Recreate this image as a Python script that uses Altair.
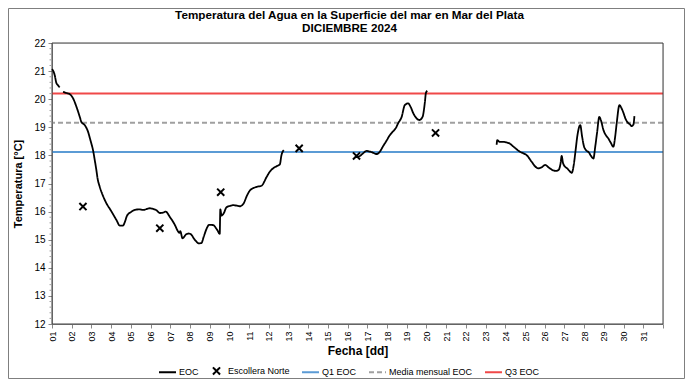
import altair as alt
import pandas as pd

# ---------------- data ----------------
eoc_day = [
    1.00, 1.08, 1.14, 1.22, 1.30, 1.39,
    1.56, 1.73, 1.90, 2.07, 2.24, 2.41, 2.49, 2.66, 2.83, 2.95, 3.08, 3.17, 3.25, 3.32,
    3.42, 3.68, 4.02, 4.27, 4.44, 4.60, 4.69, 4.81, 5.00, 5.20, 5.45, 5.62, 5.96, 6.11,
    6.30, 6.47, 6.62, 6.77, 6.97, 7.23, 7.40, 7.46, 7.51, 7.62, 7.82, 7.94, 8.08, 8.19,
    8.33, 8.45, 8.58, 8.70, 8.85, 8.97, 9.17, 9.38, 9.51, 9.54, 9.60, 9.72, 9.85, 10.02,
    10.19, 10.38, 10.53, 10.73, 10.88, 11.04, 11.38, 11.63, 11.88, 12.05, 12.22, 12.41,
    12.56, 12.64, 12.76,
    16.37, 16.62, 16.79, 16.96, 17.20, 17.47, 17.63, 17.80, 17.97, 18.14, 18.31, 18.45,
    18.56, 18.74, 18.90, 19.07, 19.20, 19.33, 19.50, 19.63, 19.80, 19.92, 19.97, 20.04,
    23.56, 23.59, 23.72, 23.90, 24.07, 24.23, 24.40, 24.57, 24.74, 24.90, 25.08, 25.34,
    25.50, 25.67, 25.85, 26.02, 26.20, 26.36, 26.55, 26.70, 26.80, 26.86, 26.92, 27.00,
    27.12, 27.25, 27.37, 27.48, 27.56, 27.66, 27.80, 27.90, 27.98, 28.10, 28.22, 28.38,
    28.47, 28.56, 28.65, 28.77, 28.85, 28.98, 29.10, 29.23, 29.35, 29.48, 29.57, 29.65,
    29.79, 29.88, 29.99, 30.10, 30.20, 30.33, 30.41, 30.50, 30.55,
]
eoc_temp = [
    21.07, 20.98, 20.85, 20.58, 20.50, 20.42,
    20.26, 20.22, 20.18, 20.03, 19.73, 19.37, 19.19, 19.08, 18.84, 18.54, 18.19, 17.83, 17.48, 17.15,
    16.89, 16.41, 16.00, 15.70, 15.50, 15.50, 15.62, 15.86, 15.98, 16.06, 16.08, 16.06, 16.12, 16.10,
    16.05, 15.95, 15.96, 16.00, 15.82, 15.53, 15.29, 15.24, 15.30, 15.05, 15.20, 15.22, 15.17, 15.05,
    14.93, 14.87, 14.88, 15.11, 15.40, 15.53, 15.52, 15.35, 15.21, 16.08, 15.86, 15.95, 16.15, 16.20,
    16.23, 16.21, 16.19, 16.30, 16.55, 16.75, 16.88, 16.92, 17.22, 17.42, 17.54, 17.62,
    17.68, 18.00, 18.19,
    17.93, 17.98, 18.08, 18.16, 18.12, 18.05, 18.13, 18.33, 18.52, 18.72, 18.86, 18.98,
    19.14, 19.37, 19.79, 19.85, 19.72, 19.50, 19.32, 19.26, 19.37, 19.90, 20.22, 20.30,
    18.38, 18.54, 18.48, 18.48, 18.46, 18.42, 18.32, 18.22, 18.13, 18.08, 18.01, 17.77,
    17.62, 17.54, 17.58, 17.66, 17.57, 17.49, 17.45, 17.48, 17.70, 17.98, 17.75, 17.62,
    17.55, 17.45, 17.38, 17.70, 18.15, 18.72, 19.08, 18.65, 18.35, 18.18, 18.12, 17.95,
    17.89, 18.30, 18.78, 19.37, 19.25, 18.90, 18.72, 18.60, 18.45, 18.31, 18.65, 19.14,
    19.79, 19.70, 19.52, 19.30, 19.18, 19.10, 19.04, 19.10, 19.40,
]
eoc_seg = [0] * 6 + [1] * 71 + [2] * 24 + [3] * 57

esc_day = [2.57, 6.47, 9.56, 13.54, 16.45, 20.46]
esc_temp = [16.18, 15.41, 16.69, 18.25, 17.98, 18.80]

ref_names = ["Q1 EOC", "Media mensual EOC", "Q3 EOC"]
ref_values = [18.12, 19.16, 20.20]

series = ["EOC", "Escollera Norte", "Q1 EOC", "Media mensual EOC", "Q3 EOC"]
series_colors = ["#000000", "#000000", "#5B9BD5", "#A0A0A0", "#F04848"]

y_major = list(range(12, 23))
y_minor = [12 + 0.2 * i for i in range(51) if i % 5 != 0]
x_days = list(range(1, 33))

# ---------------- tables ----------------
eoc_df = pd.DataFrame({"dia": eoc_day, "temp": eoc_temp, "seg": eoc_seg, "serie": "EOC"})
esc_df = pd.DataFrame({"dia": esc_day, "temp": esc_temp, "serie": "Escollera Norte"})
ref_df = pd.DataFrame({"serie": ref_names, "temp": ref_values})
minor_df = pd.DataFrame({"temp": y_minor})

FONT = "Liberation Sans"
NARROW = "Liberation Sans Narrow, Arial Narrow, Liberation Sans"
XPATH = "M-0.42,-0.42L0.42,0.42M0.42,-0.42L-0.42,0.42"

legend = alt.Legend(
    title=None,
    orient="none",
    legendX=106,
    legendY=318,
    direction="horizontal",
    columns=5,
    columnPadding=8,
    labelFont=FONT,
    labelFontSize=9,
    labelColor="#000000",
    labelOffset=2,
    symbolSize=289,
    symbolStrokeWidth=2,
)

color = alt.Color("serie:N", scale=alt.Scale(domain=series, range=series_colors), legend=legend)
shape = alt.Shape(
    "serie:N",
    scale=alt.Scale(domain=series, range=["stroke", XPATH, "stroke", "stroke", "stroke"]),
    legend=legend,
)
dash = alt.StrokeDash(
    "serie:N",
    scale=alt.Scale(domain=series, range=[[1, 0], [1, 0], [1, 0], [5, 3], [1, 0]]),
    legend=legend,
)

y_scale = alt.Scale(domain=[12, 22], nice=False, zero=False)

x_enc = alt.X(
    "dia:Q",
    scale=alt.Scale(domain=[1, 32], nice=False, zero=False),
    axis=alt.Axis(
        values=x_days,
        labelExpr="datum.value > 31 ? '' : (datum.value < 10 ? '0' + datum.value : '' + datum.value)",
        labelAngle=270,
        labelFont=FONT,
        labelFontSize=9,
        labelPadding=3,
        labelFlush=False,
        labelOverlap=False,
        tickSize=4,
        grid=False,
        title="Fecha [dd]",
        titleFont=FONT,
        titleFontSize=12,
        titleFontWeight="bold",
        titlePadding=4,
    ),
)
y_axis = alt.Axis(
    values=y_major,
    labelFont=FONT,
    labelFontSize=10,
    labelPadding=3,
    labelFlush=False,
    labelOverlap=False,
    tickSize=4,
    grid=False,
    title="Temperatura [°C]",
    titleFont=FONT,
    titleFontSize=11,
    titleFontWeight="bold",
    titlePadding=10,
)
y_enc = alt.Y("temp:Q", scale=y_scale, axis=y_axis)

frame = alt.Chart(pd.DataFrame({"a": [0]})).mark_rect(
    filled=False, stroke="#7F7F7F", strokeWidth=1
).encode(
    x=alt.value(-43.5), x2=alt.value(632.5), y=alt.value(-34.5), y2=alt.value(335.5)
)

# plot-area border (top and right), like the original chart frame
border = alt.Chart(pd.DataFrame({"a": [0]})).mark_rect(
    filled=False, stroke="#404040", strokeWidth=1
).encode(
    x=alt.value(0), x2=alt.value(611), y=alt.value(0), y2=alt.value(281)
)

minor = alt.Chart(minor_df).mark_rule(color="#A0A0A0", strokeWidth=1).encode(
    y=y_enc,
    x=alt.value(-2.5),
    x2=alt.value(0),
)

refs = alt.Chart(ref_df).mark_rule(strokeWidth=2).encode(
    y=y_enc,
    color=color,
    strokeDash=dash,
    strokeWidth=alt.condition(
        alt.datum.serie == "Q1 EOC", alt.value(2.2), alt.value(1.6)
    ),
)

line = alt.Chart(eoc_df).mark_line(strokeWidth=1.8, interpolate="monotone").encode(
    x=x_enc,
    y=y_enc,
    detail="seg:N",
    color=color,
    strokeDash=dash,
)

points = alt.Chart(esc_df).mark_point(
    filled=False, strokeWidth=2, opacity=1, size=289
).encode(
    x=x_enc,
    y=y_enc,
    color=color,
    shape=shape,
)

chart = alt.layer(refs, frame, border, minor, line, points).properties(
    width=611,
    height=281,
    autosize=alt.AutoSizeParams(type="none"),
    padding={"left": 44, "top": 35, "right": 22, "bottom": 55},
    title=alt.TitleParams(
        ["Temperatura del Agua en la Superficie del mar en Mar del Plata", "DICIEMBRE 2024"],
        font=NARROW,
        fontSize=11.7,
        fontWeight="bold",
        color="#000000",
        anchor="middle",
        frame="group",
        dx=-8,
        offset=-27,
        lineHeight=13,
    ),
).configure_view(
    stroke="#404040", strokeWidth=1
).configure_axis(
    domainColor="#868686",
    tickColor="#868686",
    labelColor="#000000",
    titleColor="#000000",
).configure(background="white")

chart.save("out.html", embed_options={"renderer": "svg", "actions": False})
